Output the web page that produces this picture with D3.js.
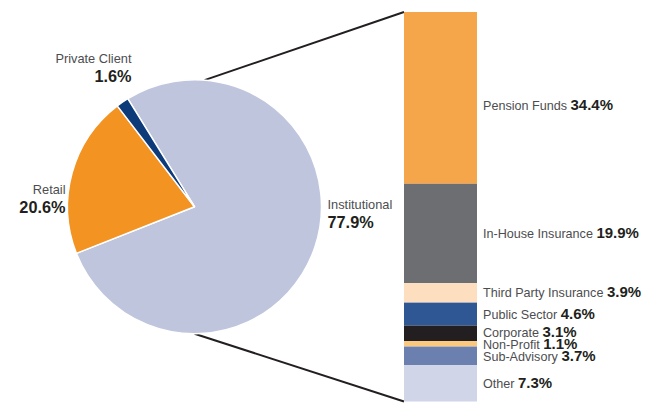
<!DOCTYPE html>
<html>
<head>
<meta charset="utf-8">
<script src="https://cdn.jsdelivr.net/npm/d3@7"></script>
<style>
  html, body { margin: 0; padding: 0; background: #fff; }
  svg { display: block; font-family: "Liberation Sans", Arial, Helvetica, sans-serif; }
</style>
</head>
<body>
<svg id="chart" width="654" height="412"></svg>
<script>
// Client type split (pie)
const clientTypes = ["Institutional", "Retail", "Private Client"];
const clientShares = [77.9, 20.6, 1.6];
const clientColors = ["#BFC5DD", "#F39322", "#0D3B7A"];

// Institutional breakdown (stacked bar)
const instCategories = ["Pension Funds", "In-House Insurance", "Third Party Insurance", "Public Sector",
                        "Corporate", "Non-Profit", "Sub-Advisory", "Other"];
const instShares = [34.4, 19.9, 3.9, 4.6, 3.1, 1.1, 3.7, 7.3];
const instColors = ["#F5A54A", "#6D6E71", "#FDDEBF", "#2E5794", "#231F20", "#FBC880", "#6B80AF", "#D1D5E8"];

const svg = d3.select("#chart");
const cx = 194.5, cy = 206.7, R = 127;
const deg = Math.PI / 180;

// ---- stacked bar ----
const barX = 404, barW = 73, barTop = 12, barBottom = 401.5;
const total = d3.sum(instShares);
const y = d3.scaleLinear().domain([0, total]).range([barTop, barBottom]);
let acc = 0;
const stack = instShares.map((v, i) => {
  const s = { name: instCategories[i], value: v, color: instColors[i], y0: acc, y1: acc + v };
  acc += v;
  return s;
});

// connector lines from the institutional slice to the bar (drawn under the pie)
const topAngle = 4.5 * deg, botAngle = 180 * deg;
const lineG = svg.append("g").attr("stroke", "#231F20").attr("stroke-width", 2);
lineG.append("line")
  .attr("x1", cx + R * Math.sin(topAngle)).attr("y1", cy - R * Math.cos(topAngle))
  .attr("x2", barX).attr("y2", y(0));
lineG.append("line")
  .attr("x1", cx + R * Math.sin(botAngle)).attr("y1", cy - R * Math.cos(botAngle))
  .attr("x2", barX).attr("y2", y(total));

svg.append("g").selectAll("rect").data(stack).join("rect")
  .attr("x", barX).attr("width", barW)
  .attr("y", d => y(d.y0))
  .attr("height", d => y(d.y1) - y(d.y0))
  .attr("fill", d => d.color);

// bar labels: start at segment centres, then push apart the crowded ones
const nudge = { "Pension Funds": 8 };
const minGap = 12.2;
const ly = stack.map(d => (y(d.y0) + y(d.y1)) / 2 + (nudge[d.name] || 0));
for (let iter = 0; iter < 30; iter++) {
  for (let i = 1; i < ly.length; i++) {
    const over = minGap - (ly[i] - ly[i - 1]);
    if (over > 0) { ly[i - 1] -= over / 2; ly[i] += over / 2; }
  }
}
const barLabels = svg.append("g").attr("font-size", 12.6);
stack.forEach((d, i) => {
  const t = barLabels.append("text")
    .attr("x", barX + barW + 6)
    .attr("y", ly[i] + 4.6);
  t.append("tspan").attr("fill", "#4D4D4F").text(d.name + " ");
  t.append("tspan").attr("fill", "#231F20").attr("font-weight", "bold")
    .attr("font-size", 15).text(d3.format(".1f")(d.value) + "%");
});

// ---- pie ----
const startA = -31.7 * deg;
const pie = d3.pie().sort(null).value(d => d.value)
  .startAngle(startA).endAngle(startA + 2 * Math.PI);
const arcs = pie(clientTypes.map((n, i) => ({ name: n, value: clientShares[i], color: clientColors[i] })));
const arc = d3.arc().innerRadius(0).outerRadius(R);

svg.append("g").attr("transform", `translate(${cx},${cy})`)
  .selectAll("path").data(arcs).join("path")
  .attr("d", arc)
  .attr("fill", d => d.data.color)
  .attr("stroke", "#fff").attr("stroke-width", 1.5).attr("stroke-linejoin", "round");

// pie labels
const pieLabelPos = {
  "Institutional": { x: cx + 133, y: 209, anchor: "start" },
  "Retail": { x: 65.5, y: 194, anchor: "end" },
  "Private Client": { x: 131.5, y: 62.5, anchor: "end" }
};
const pieLabels = svg.append("g");
arcs.forEach(a => {
  const p = pieLabelPos[a.data.name];
  pieLabels.append("text").attr("x", p.x).attr("y", p.y).attr("text-anchor", p.anchor)
    .attr("font-size", 12.8).attr("fill", "#4D4D4F").text(a.data.name);
  pieLabels.append("text").attr("x", p.x).attr("y", p.y + 19).attr("text-anchor", p.anchor)
    .attr("font-size", 16.3).attr("font-weight", "bold").attr("fill", "#231F20")
    .text(d3.format(".1f")(a.data.value) + "%");
});
</script>
</body>
</html>
